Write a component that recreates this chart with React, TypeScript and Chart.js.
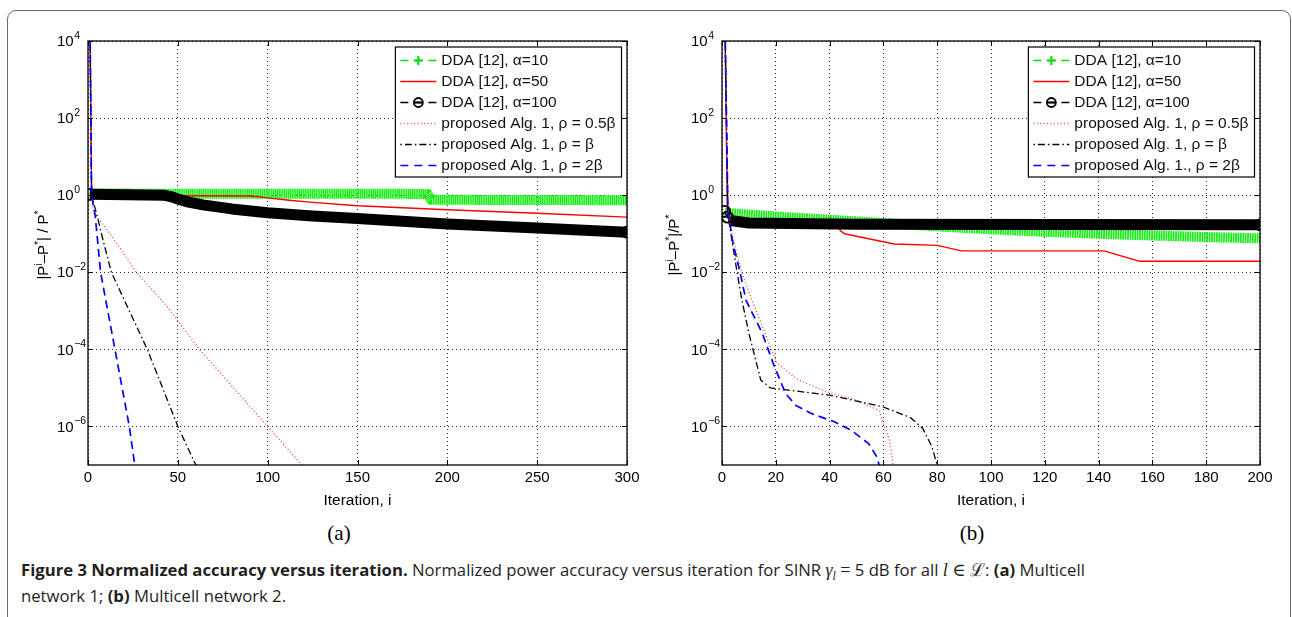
import React, { useEffect, useRef } from 'react';
import { Chart, registerables } from 'chart.js';

Chart.register(...registerables);

const FONT = '"Liberation Sans", Arial, Helvetica, sans-serif';
Chart.defaults.font.family = FONT;

// ---------- shared axis data ----------
const Y_MIN = 1e-7;
const Y_MAX = 1e4;
const Y_TICKS = [1e-6, 1e-4, 1e-2, 1, 1e2, 1e4];
const A_X_TICKS = [0, 50, 100, 150, 200, 250, 300];
const B_X_TICKS = [0, 20, 40, 60, 80, 100, 120, 140, 160, 180, 200];
const X_TITLE = 'Iteration, i';

// ---------- legend labels ----------
const A_LABELS = [
  'DDA [12], \u03b1=10',
  'DDA [12], \u03b1=50',
  'DDA [12], \u03b1=100',
  'proposed Alg. 1, \u03c1 = 0.5\u03b2',
  'proposed Alg. 1, \u03c1 = \u03b2',
  'proposed Alg. 1, \u03c1 = 2\u03b2',
];
const B_LABELS = [
  'DDA [12], \u03b1=10',
  'DDA [12], \u03b1=50',
  'DDA [12], \u03b1=100',
  'proposed Alg. 1, \u03c1 = 0.5\u03b2',
  'proposed Alg. 1, \u03c1 = \u03b2',
  'proposed Alg. 1., \u03c1 = 2\u03b2',
];

// ---------- y-axis titles (text, superscript flag) ----------
const A_YTITLE = [
  { t: '|P', sup: false }, { t: 'i', sup: true }, { t: '\u2013P', sup: false },
  { t: '*', sup: true }, { t: '| / P', sup: false }, { t: '*', sup: true },
];
const B_YTITLE = [
  { t: '|P', sup: false }, { t: 'i', sup: true }, { t: '\u2013P', sup: false },
  { t: '*', sup: true }, { t: '|/P', sup: false }, { t: '*', sup: true },
];

// ---------- panel (a) series ----------
const A_DDA10_X = [1, 189, 191, 300];
const A_DDA10_Y = [1.1, 1.08, 0.76, 0.74];
const A_DDA50_X = [1, 2, 90, 95, 100, 112, 125, 150, 175, 200, 250, 300];
const A_DDA50_Y = [1e5, 1.0, 0.95, 0.91, 0.85, 0.74, 0.65, 0.53, 0.47, 0.42, 0.34, 0.27];
const A_DDA100_X = [1, 42, 46, 50, 56, 64, 80, 100, 125, 150, 200, 250, 300];
const A_DDA100_Y = [1.05, 1.0, 0.92, 0.8, 0.66, 0.56, 0.44, 0.35, 0.29, 0.25, 0.18, 0.14, 0.11];
const A_P05_X = [1, 2, 3, 10, 27, 44, 62, 100, 119, 121];
const A_P05_Y = [1e5, 1, 0.35, 0.14, 0.01, 1.3e-3, 1e-4, 1e-6, 1e-7, 8e-8];
const A_P1_X = [1, 2, 5, 8, 13, 33, 50, 60, 62];
const A_P1_Y = [1e5, 1, 0.3, 0.08, 0.01, 1e-4, 1e-6, 1e-7, 6e-8];
const A_P2_X = [1, 2, 4, 7, 15, 23, 26, 28];
const A_P2_Y = [1e5, 1, 0.3, 0.01, 1e-4, 1e-6, 1e-7, 5e-8];

// ---------- panel (b) series ----------
const B_DDA10_X = [1, 3, 20, 40, 60, 80, 100, 120, 140, 160, 180, 200];
const B_DDA10_Y = [0.36, 0.34, 0.28, 0.23, 0.19, 0.155, 0.13, 0.112, 0.1, 0.09, 0.082, 0.076];
const B_DDA50_X = [1, 2, 5, 43, 44, 45.5, 64, 80, 89, 142, 155, 200];
const B_DDA50_Y = [1e5, 0.3, 0.2, 0.17, 0.12, 0.1, 0.054, 0.05, 0.036, 0.036, 0.0194, 0.0194];
const B_DDA100_X = [1, 2, 3, 10, 50, 200];
const B_DDA100_Y = [0.38, 0.27, 0.22, 0.19, 0.175, 0.17];
const B_P05_X = [1, 2.2, 4, 7.3, 11.1, 17.5, 20.5, 28.3, 39, 50, 58.4, 60, 62.3, 63.6, 64];
const B_P05_Y = [1e5, 0.4, 0.08, 0.01, 1.9e-3, 1.45e-4, 4.4e-5, 1.6e-5, 7.9e-6, 4.8e-6, 2.6e-6, 1.2e-6, 4.4e-7, 1e-7, 5e-8];
const B_P1_X = [1, 2.2, 5.6, 7.4, 10, 14.4, 18, 40, 60, 70, 74.6, 78, 80, 80.5];
const B_P1_Y = [1e5, 0.3, 0.01, 1.9e-3, 2.6e-4, 1.6e-5, 1e-5, 6.5e-6, 3.2e-6, 1.7e-6, 9e-7, 3e-7, 1e-7, 5e-8];
const B_P2_X = [1, 2.2, 4, 6.7, 8.9, 15, 19, 23.6, 27.5, 33, 42, 48, 54.5, 57.6, 58.4, 59];
const B_P2_Y = [1e5, 0.4, 0.06, 0.01, 1.9e-3, 2.6e-4, 4.4e-5, 7.2e-6, 3.5e-6, 2.2e-6, 1.3e-6, 8e-7, 3.6e-7, 1.6e-7, 1e-7, 5e-8];

type Seg = { t: string; sup: boolean };

const zip = (xs: number[], ys: number[]) => xs.map((x, i) => ({ x, y: ys[i] }));

function makeDatasets(
  labels: string[],
  xs: number[][],
  ys: number[][],
  greenDash: number[],
  rings: number[],
  thinSegs: number,
) {
  const n = xs[2].length;
  const ringIdx = rings.map((r) => (r < 0 ? n + r : r));
  const common = { pointRadius: 0, tension: 0, fill: false, borderCapStyle: 'butt', borderJoinStyle: 'round' };
  return [
    {
      ...common,
      label: labels[0],
      data: zip(xs[0], ys[0]),
      borderColor: '#0fee0f',
      borderWidth: 10,
      borderDash: greenDash,
      order: 6,
      lgColor: '#00dd00', lgDash: [8, 6], lgWidth: 1.5, lgMarker: 'cross',
    },
    {
      ...common,
      label: labels[1],
      data: zip(xs[1], ys[1]),
      borderColor: '#ff0000',
      borderWidth: 1.4,
      order: 5,
      lgColor: '#ff0000', lgDash: [], lgWidth: 1.5, lgMarker: '',
    },
    {
      ...common,
      label: labels[2],
      data: zip(xs[2], ys[2]),
      borderColor: '#000000',
      borderWidth: 11,
      order: 4,
      pointRadius: (c: any) => (ringIdx.includes(c.dataIndex) ? 5.5 : 0),
      pointBorderWidth: 1.8,
      pointBorderColor: '#000',
      pointBackgroundColor: 'rgba(255,255,255,0)',
      segment: { borderWidth: (c: any) => (c.p0DataIndex < thinSegs ? 1.5 : 11) },
      lgColor: '#000', lgDash: [8, 6], lgWidth: 1.5, lgMarker: 'circle',
    },
    {
      ...common,
      label: labels[3],
      data: zip(xs[3], ys[3]),
      borderColor: '#ff3a3a',
      borderWidth: 1.3,
      borderDash: [1, 2.4],
      order: 3,
      lgColor: '#ff5050', lgDash: [1, 2.4], lgWidth: 1.3, lgMarker: '',
    },
    {
      ...common,
      label: labels[4],
      data: zip(xs[4], ys[4]),
      borderColor: '#000000',
      borderWidth: 1.3,
      borderDash: [7, 3, 1.5, 3],
      order: 2,
      lgColor: '#000', lgDash: [1.5, 3, 7, 3], lgWidth: 1.3, lgMarker: '',
    },
    {
      ...common,
      label: labels[5],
      data: zip(xs[5], ys[5]),
      borderColor: '#0000ff',
      borderWidth: 1.7,
      borderDash: [8, 5],
      order: 1,
      lgColor: '#0000ff', lgDash: [8, 6], lgWidth: 1.6, lgMarker: '',
    },
  ];
}

const matlabPlugin = {
  id: 'matlab',
  afterDatasetsDraw(chart: any, _args: any, opts: any) {
    const { ctx, chartArea } = chart;
    const { left, right, top, bottom } = chartArea;
    const xs = chart.scales.x;
    const ys = chart.scales.y;
    ctx.save();
    ctx.setLineDash([]);
    ctx.strokeStyle = '#000';
    ctx.lineWidth = 1;
    ctx.beginPath();
    for (const t of xs.ticks) {
      const p = Math.round(xs.getPixelForValue(t.value)) + 0.5;
      ctx.moveTo(p, bottom); ctx.lineTo(p, bottom - 5);
      ctx.moveTo(p, top); ctx.lineTo(p, top + 5);
    }
    for (const t of ys.ticks) {
      const p = Math.round(ys.getPixelForValue(t.value)) + 0.5;
      ctx.moveTo(left, p); ctx.lineTo(left + 5, p);
      ctx.moveTo(right, p); ctx.lineTo(right - 5, p);
    }
    ctx.stroke();
    ctx.lineWidth = 1.3;
    ctx.strokeRect(left, top, right - left, bottom - top);

    // y tick labels with exponent
    ctx.fillStyle = '#000';
    ctx.textAlign = 'left';
    ctx.textBaseline = 'middle';
    for (const t of ys.ticks) {
      const py = ys.getPixelForValue(t.value);
      const e = Math.round(Math.log10(t.value));
      const bx = left - 31;
      ctx.font = `15px ${FONT}`;
      ctx.fillText('10', bx, py + 1);
      const w = ctx.measureText('10').width;
      ctx.font = `10.5px ${FONT}`;
      ctx.fillText(e < 0 ? '\u2212' + -e : String(e), bx + w + 0.5, py - 5);
    }

    // y title (rotated, with superscripts)
    const segs: Seg[] = opts.title;
    ctx.save();
    ctx.translate(left - opts.titleOffset, (top + bottom) / 2 - 8);
    ctx.rotate(-Math.PI / 2);
    const big = `15px ${FONT}`;
    const small = `10.5px ${FONT}`;
    let total = 0;
    for (const s of segs) { ctx.font = s.sup ? small : big; total += ctx.measureText(s.t).width; }
    let x = -total / 2;
    for (const s of segs) {
      ctx.font = s.sup ? small : big;
      ctx.fillText(s.t, x, s.sup ? -5 : 0);
      x += ctx.measureText(s.t).width;
    }
    ctx.restore();

    // legend
    const dss = chart.data.datasets;
    ctx.font = `15.5px ${FONT}`;
    let maxW = 0;
    for (const d of dss) maxW = Math.max(maxW, ctx.measureText(d.label).width);
    const rowH = 21;
    const boxW = 46 + maxW + 6;
    const boxH = dss.length * rowH + 4;
    const bx = right - 5.5 - boxW;
    const by = top + 6;
    ctx.fillStyle = '#fff';
    ctx.fillRect(bx, by, boxW, boxH);
    ctx.strokeStyle = '#000';
    ctx.lineWidth = 1.2;
    ctx.setLineDash([]);
    ctx.strokeRect(bx, by, boxW, boxH);
    dss.forEach((d: any, i: number) => {
      const cy = by + 13.5 + i * rowH;
      const x0 = bx + 5;
      const x1 = bx + 41;
      ctx.strokeStyle = d.lgColor;
      ctx.lineWidth = d.lgWidth;
      ctx.setLineDash(d.lgDash);
      ctx.beginPath();
      ctx.moveTo(x0, cy);
      ctx.lineTo(x1, cy);
      ctx.stroke();
      ctx.setLineDash([]);
      const mx = (x0 + x1) / 2;
      if (d.lgMarker === 'cross') {
        ctx.lineWidth = 2;
        ctx.beginPath();
        ctx.moveTo(mx - 4.5, cy); ctx.lineTo(mx + 4.5, cy);
        ctx.moveTo(mx, cy - 4.5); ctx.lineTo(mx, cy + 4.5);
        ctx.stroke();
      } else if (d.lgMarker === 'circle') {
        ctx.lineWidth = 1.8;
        ctx.beginPath();
        ctx.arc(mx, cy, 4.5, 0, Math.PI * 2);
        ctx.moveTo(mx - 4.5, cy); ctx.lineTo(mx + 4.5, cy);
        ctx.stroke();
      }
      ctx.fillStyle = '#111';
      ctx.font = `15.5px ${FONT}`;
      ctx.textBaseline = 'middle';
      ctx.fillText(d.label, bx + 46, cy + 0.5);
    });
    ctx.restore();
  },
};

type PanelSpec = {
  left: number;
  top: number;
  w: number;
  h: number;
  yAxisW: number;
  padRight: number;
  xTicks: number[];
  title: Seg[];
  titleOffset: number;
  datasets: any[];
};

function Panel({ spec }: { spec: PanelSpec }) {
  const ref = useRef<HTMLCanvasElement>(null);
  useEffect(() => {
    const xMax = spec.xTicks[spec.xTicks.length - 1];
    const chart = new Chart(ref.current as HTMLCanvasElement, {
      type: 'line',
      data: { datasets: spec.datasets },
      options: {
        animation: false,
        responsive: false,
        devicePixelRatio: 1,
        events: [],
        layout: { padding: { top: 11, right: spec.padRight, left: 0, bottom: 0 } },
        plugins: {
          legend: { display: false },
          tooltip: { enabled: false },
          matlab: { title: spec.title, titleOffset: spec.titleOffset },
        } as any,
        scales: {
          x: {
            type: 'linear',
            min: 0,
            max: xMax,
            afterBuildTicks: (s: any) => { s.ticks = spec.xTicks.map((v) => ({ value: v })); },
            afterFit: (s: any) => { s.height = 50; s.paddingLeft = 0; s.paddingRight = 0; },
            ticks: {
              padding: 4,
              color: '#000',
              font: { size: 15, family: FONT },
              maxRotation: 0,
              autoSkip: false,
              callback: (v: any) => String(v),
            },
            grid: { color: '#2a2a2a', lineWidth: 1, drawTicks: false },
            border: { display: false, dash: [1, 3] },
            title: {
              display: true,
              text: X_TITLE,
              color: '#000',
              font: { size: 15.5, family: FONT },
              padding: { top: 0, bottom: 5 },
            },
          },
          y: {
            type: 'logarithmic',
            min: Y_MIN,
            max: Y_MAX,
            afterBuildTicks: (s: any) => { s.ticks = Y_TICKS.map((v) => ({ value: v })); },
            afterFit: (s: any) => { s.width = spec.yAxisW; s.paddingTop = 0; s.paddingBottom = 0; },
            ticks: { callback: () => '', padding: 0 },
            grid: { color: '#2a2a2a', lineWidth: 1, drawTicks: false },
            border: { display: false, dash: [1, 3] },
          },
        } as any,
      },
      plugins: [matlabPlugin as any],
    });
    return () => chart.destroy();
  }, [spec]);
  return (
    <canvas
      ref={ref}
      width={spec.w}
      height={spec.h}
      style={{ position: 'absolute', left: spec.left, top: spec.top, width: spec.w, height: spec.h }}
    />
  );
}

const SPEC_A: PanelSpec = {
  left: 20, top: 30, w: 620, h: 485, yAxisW: 68, padRight: 13,
  xTicks: A_X_TICKS, title: A_YTITLE, titleOffset: 44,
  datasets: makeDatasets(
    A_LABELS,
    [A_DDA10_X, A_DDA50_X, A_DDA100_X, A_P05_X, A_P1_X, A_P2_X],
    [A_DDA10_Y, A_DDA50_Y, A_DDA100_Y, A_P05_Y, A_P1_Y, A_P2_Y],
    [1.4, 0.45], [0, -1], 0,
  ),
};

const SPEC_B: PanelSpec = {
  left: 650, top: 30, w: 625, h: 485, yAxisW: 72, padRight: 15,
  xTicks: B_X_TICKS, title: B_YTITLE, titleOffset: 47,
  datasets: makeDatasets(
    B_LABELS,
    [B_DDA10_X, B_DDA50_X, B_DDA100_X, B_P05_X, B_P1_X, B_P2_X],
    [B_DDA10_Y, B_DDA50_Y, B_DDA100_Y, B_P05_Y, B_P1_Y, B_P2_Y],
    [1.7, 0.7], [0, 1, -1], 2,
  ),
};

const CAPTION_FONT = '"Open Sans", "Noto Sans", sans-serif';
const MATH_FONT = '"Liberation Serif", "DejaVu Serif", serif';

export default function App() {
  return (
    <div style={{ position: 'absolute', left: 0, top: 0, width: 1292, height: 617, overflow: 'hidden', background: '#fff' }}>
      <div
        style={{
          position: 'absolute', left: 7, top: 10, width: 1284, height: 650,
          border: '1.5px solid #6a6a6a', borderRadius: 9, boxSizing: 'border-box',
        }}
      />
      <Panel spec={SPEC_A} />
      <Panel spec={SPEC_B} />
      <div style={{ position: 'absolute', left: 339, top: 533, transform: 'translate(-50%, -50%)', fontFamily: MATH_FONT, fontSize: 21, lineHeight: 1, color: '#000' }}>(a)</div>
      <div style={{ position: 'absolute', left: 972, top: 533, transform: 'translate(-50%, -50%)', fontFamily: MATH_FONT, fontSize: 21, lineHeight: 1, color: '#000' }}>(b)</div>
      <div
        style={{
          position: 'absolute', left: 21, top: 558, whiteSpace: 'nowrap',
          fontFamily: CAPTION_FONT, fontSize: 16.7, lineHeight: '23px', color: '#231f20',
        }}
      >
        <b>Figure 3 Normalized accuracy versus iteration.</b> Normalized power accuracy versus iteration for SINR{' '}
        <span style={{ fontFamily: MATH_FONT, fontStyle: 'italic', fontSize: 18 }}>
          {'\u03b3'}
          <span style={{ fontSize: 12, position: 'relative', top: 4 }}>l</span>
        </span>{' '}
        <span style={{ fontFamily: MATH_FONT, fontSize: 18 }}>=</span> 5 dB for all{' '}
        <span style={{ fontFamily: MATH_FONT, fontStyle: 'italic', fontSize: 18 }}>l</span>{' '}
        <span style={{ fontFamily: MATH_FONT, fontSize: 18 }}>{'\u2208 \u2112'}</span>: <b>(a)</b> Multicell
        <br />
        network 1; <b>(b)</b> Multicell network 2.
      </div>
    </div>
  );
}
